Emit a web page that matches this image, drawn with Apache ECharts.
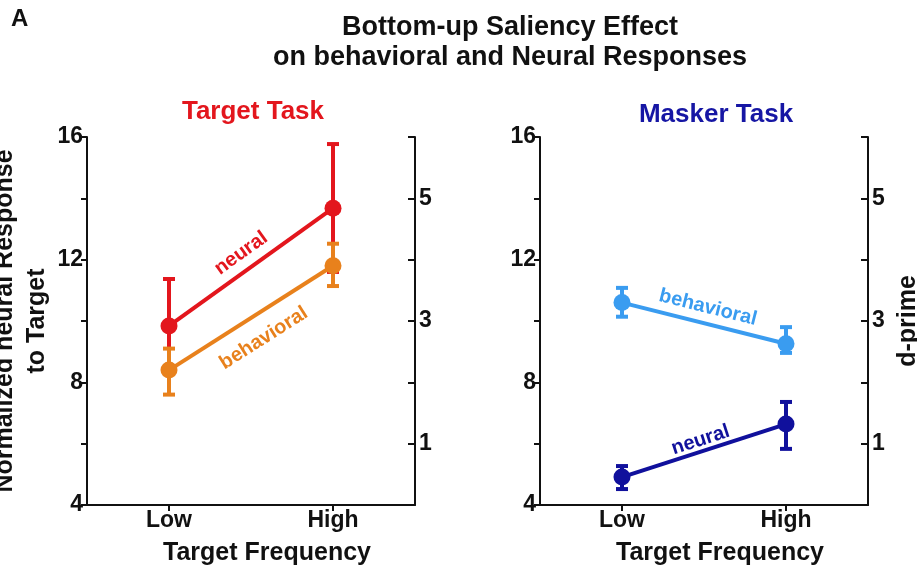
<!DOCTYPE html>
<html>
<head>
<meta charset="utf-8">
<title>Bottom-up Saliency Effect</title>
<script src="https://cdn.jsdelivr.net/npm/echarts@6/dist/echarts.min.js"></script>
<style>
  html, body { margin: 0; padding: 0; background: #ffffff; }
  #chart { width: 917px; height: 571px; }
</style>
</head>
<body>
<div id="chart"></div>
<script>
// categories on the x axis
const categories = ['Low', 'High'];

// Target task: neural on the left axis, behavioral (d-prime) on the right axis
const targetNeural = [9.84, 13.68];
const targetNeuralErr = [[8.31, 11.37], [11.6, 15.77]];
const targetBehav = [2.2, 3.9];
const targetBehavErr = [[1.8, 2.55], [3.57, 4.26]];

// Masker task
const maskerNeural = [4.91, 6.64];
const maskerNeuralErr = [[4.52, 5.27], [5.83, 7.36]];
const maskerBehav = [3.3, 2.63];
const maskerBehavErr = [[3.07, 3.54], [2.48, 2.9]];

// tick labels that are printed
const leftTickLabels = [4, 8, 12, 16];
const rightTickLabels = [1, 3, 5];

const FONT = '"Liberation Sans", Arial, Helvetica, sans-serif';
const RED = '#e3161d';
const ORANGE = '#e8811c';
const LIGHTBLUE = '#3a9cf0';
const NAVY = '#10109c';

const chart = echarts.init(document.getElementById('chart'));

function errorBars(params, api) {
  const x = api.value(0);
  const lo = api.coord([x, api.value(1)]);
  const hi = api.coord([x, api.value(2)]);
  const w = 6;
  const style = { stroke: api.visual('color'), lineWidth: 4 };
  return {
    type: 'group',
    children: [
      { type: 'line', shape: { x1: lo[0], y1: lo[1], x2: hi[0], y2: hi[1] }, style: style },
      { type: 'line', shape: { x1: lo[0] - w, y1: lo[1], x2: lo[0] + w, y2: lo[1] }, style: style },
      { type: 'line', shape: { x1: hi[0] - w, y1: hi[1], x2: hi[0] + w, y2: hi[1] }, style: style }
    ]
  };
}

function errSeries(errs, xi, yi, color) {
  return {
    type: 'custom',
    xAxisIndex: xi,
    yAxisIndex: yi,
    renderItem: errorBars,
    itemStyle: { color: color },
    encode: { x: 0, y: [1, 2] },
    data: errs.map((e, i) => [i, e[0], e[1]]),
    z: 1,
    silent: true
  };
}

function lineSeries(name, values, xi, yi, color, labelPos, dist) {
  return {
    name: name,
    type: 'line',
    xAxisIndex: xi,
    yAxisIndex: yi,
    data: values,
    symbol: 'circle',
    symbolSize: 17,
    itemStyle: { color: color },
    lineStyle: { color: color, width: 4 },
    z: 2,
    silent: true,
    markLine: {
      silent: true,
      symbol: 'none',
      lineStyle: { color: 'rgba(0,0,0,0)', width: 0, type: 'solid' },
      label: {
        show: true,
        position: labelPos,
        distance: dist,
        formatter: name,
        color: color,
        fontFamily: FONT,
        fontWeight: 'bold',
        fontSize: 20
      },
      data: [[{ coord: [0, values[0]] }, { coord: [1, values[1]] }]]
    }
  };
}

const axisLine = { show: true, lineStyle: { color: '#111', width: 2 } };
const tickLabel = { color: '#111', fontFamily: FONT, fontWeight: 'bold', fontSize: 23 };

function xAxis(gi) {
  return {
    type: 'category',
    gridIndex: gi,
    data: categories,
    boundaryGap: true,
    axisLine: axisLine,
    axisTick: { show: true, alignWithLabel: true, length: 6, lineStyle: { color: '#111', width: 2 } },
    axisLabel: Object.assign({ margin: 4, fontSize: 24 }, tickLabel),
    name: 'Target Frequency',
    nameLocation: 'middle',
    nameGap: 36,
    nameTextStyle: { color: '#111', fontFamily: FONT, fontWeight: 'bold', fontSize: 25, padding: [0, 0, 0, 32] }
  };
}

function leftAxis(gi, name) {
  return {
    type: 'value',
    gridIndex: gi,
    position: 'left',
    min: 4,
    max: 16,
    interval: 2,
    axisLine: axisLine,
    axisTick: { show: true, length: 6, lineStyle: { color: '#111', width: 2 } },
    axisLabel: Object.assign({ margin: 4, formatter: v => leftTickLabels.includes(v) ? String(v) : '' }, tickLabel),
    splitLine: { show: false },
    name: name,
    nameLocation: 'middle',
    nameRotate: 90,
    nameGap: 31,
    nameTextStyle: { color: '#111', fontFamily: FONT, fontWeight: 'bold', fontSize: 25, lineHeight: 32 }
  };
}

function rightAxis(gi, name) {
  return {
    type: 'value',
    gridIndex: gi,
    position: 'right',
    min: 0,
    max: 6,
    interval: 1,
    axisLine: axisLine,
    axisTick: { show: true, inside: true, length: 7, lineStyle: { color: '#111', width: 2 } },
    axisLabel: Object.assign({ margin: 4, formatter: v => rightTickLabels.includes(v) ? String(v) : '' }, tickLabel),
    splitLine: { show: false },
    name: name,
    nameLocation: 'middle',
    nameRotate: 90,
    nameGap: 28,
    nameTextStyle: { color: '#111', fontFamily: FONT, fontWeight: 'bold', fontSize: 25 }
  };
}

const option = {
  backgroundColor: '#ffffff',
  animation: false,
  title: [
    {
      text: 'A',
      left: 11, top: 7, padding: 0,
      textStyle: { color: '#111', fontFamily: FONT, fontWeight: 'bold', fontSize: 24 }
    },
    {
      text: 'Bottom-up Saliency Effect\non behavioral and Neural Responses',
      left: 510, top: 13, padding: 0, textAlign: 'center',
      textStyle: { color: '#111', fontFamily: FONT, fontWeight: 'bold', fontSize: 27, lineHeight: 30 }
    },
    {
      text: 'Target Task',
      left: 253, top: 99, padding: 0, textAlign: 'center',
      textStyle: { color: RED, fontFamily: FONT, fontWeight: 'bold', fontSize: 26 }
    },
    {
      text: 'Masker Task',
      left: 716, top: 102, padding: 0, textAlign: 'center',
      textStyle: { color: '#1616a4', fontFamily: FONT, fontWeight: 'bold', fontSize: 26 }
    }
  ],
  grid: [
    { left: 87, right: 502, top: 137, bottom: 66, outerBoundsMode: 'none', containLabel: false },
    { left: 540, right: 49, top: 137, bottom: 66, outerBoundsMode: 'none', containLabel: false }
  ],
  xAxis: [xAxis(0), xAxis(1)],
  yAxis: [
    leftAxis(0, 'Normalized neural Response\nto Target'),
    rightAxis(0, ''),
    leftAxis(1, ''),
    rightAxis(1, 'd-prime')
  ],
  series: [
    errSeries(targetNeuralErr, 0, 0, RED),
    errSeries(targetBehavErr, 0, 1, ORANGE),
    errSeries(maskerNeuralErr, 1, 2, NAVY),
    errSeries(maskerBehavErr, 1, 3, LIGHTBLUE),
    lineSeries('neural', targetNeural, 0, 0, RED, 'insideMiddleTop', 7),
    lineSeries('behavioral', targetBehav, 0, 1, ORANGE, 'insideMiddleBottom', 14),
    lineSeries('neural', maskerNeural, 1, 2, NAVY, 'insideMiddleTop', 1),
    lineSeries('behavioral', maskerBehav, 1, 3, LIGHTBLUE, 'insideMiddleTop', 6)
  ]
};

chart.setOption(option);
</script>
</body>
</html>
